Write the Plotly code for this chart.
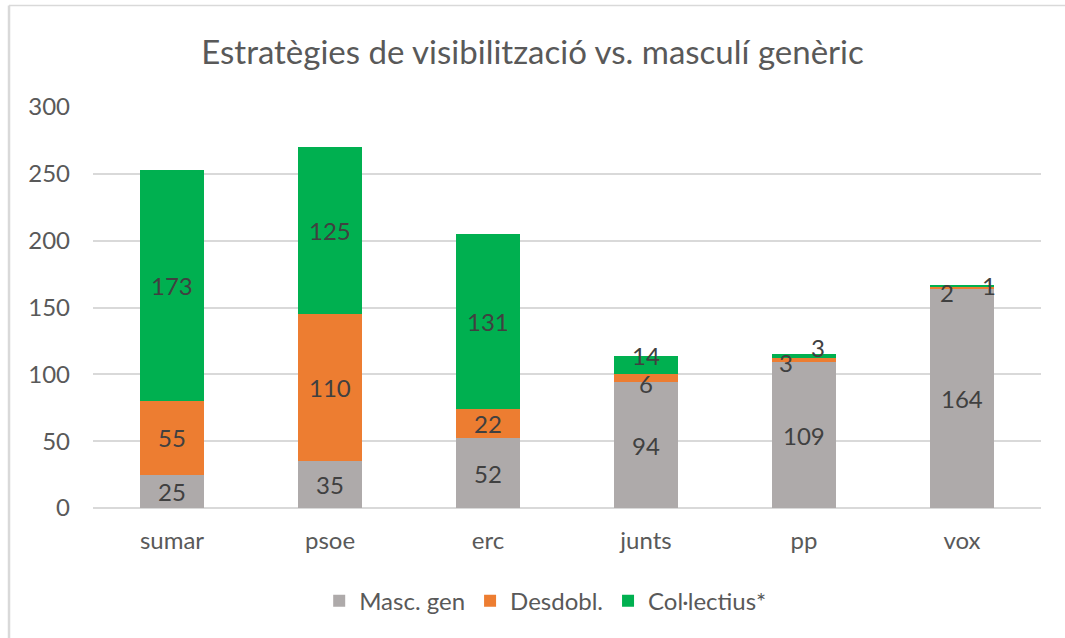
import plotly.graph_objects as go

categories = ["sumar", "psoe", "erc", "junts", "pp", "vox"]
masc_gen = [25, 35, 52, 94, 109, 164]
desdobl = [55, 110, 22, 6, 3, 2]
collectius = [173, 125, 131, 14, 3, 1]
series_names = ["Masc. gen", "Desdobl.", "Col·lectius*"]
colors = ["#AEAAAA", "#ED7D31", "#00B050"]
title_text = "Estratègies de visibilització vs. masculí genèric"

FONT = "Lato, 'Open Sans', sans-serif"

fig = go.Figure()
for name, vals, col in zip(series_names, [masc_gen, desdobl, collectius], colors):
    fig.add_trace(go.Bar(x=categories, y=vals, name=name, marker_color=col,
                         marker_line_width=0, width=0.4))

# label offsets (pixels) for small segments, Excel-style placement
offsets = {
    ("pp", 1): (-18, -2), ("pp", 2): (14, 9),
    ("vox", 1): (-15, -5), ("vox", 2): (27, 0),
    ("junts", 2): (0, 9), ("junts", 1): (0, -5),
}
series = [masc_gen, desdobl, collectius]
for i, cat in enumerate(categories):
    base = 0
    for s, vals in enumerate(series):
        v = vals[i]
        dx, dy = offsets.get((cat, s), (0, 0))
        fig.add_annotation(x=cat, y=base + v / 2, text=str(v), showarrow=False,
                           xshift=dx, yshift=dy, borderpad=0,
                           font=dict(family=FONT, size=24, color="#404040"))
        base += v

fig.update_layout(
    barmode="stack",
    width=1065, height=638,
    margin=dict(l=93, r=24, t=107, b=130),
    paper_bgcolor="white", plot_bgcolor="white",
    title=dict(text=title_text, x=0.5, xanchor="center", y=0.9185, yanchor="middle",
               font=dict(family=FONT, size=33, color="#595959")),
    legend=dict(orientation="h", x=0.477, xanchor="center", y=-0.232, yanchor="middle",
                font=dict(family=FONT, size=24, color="#595959"),
                itemwidth=30, traceorder="normal"),
    showlegend=True,
)
fig.update_yaxes(range=[0, 300], dtick=50, showgrid=True, gridcolor="#D9D9D9", gridwidth=1.5,
                 zeroline=True, zerolinecolor="#D9D9D9", zerolinewidth=1.5,
                 showline=False, ticks="", ticklabelstandoff=22,
                 tickfont=dict(family=FONT, size=24, color="#595959"))
fig.update_xaxes(showgrid=False, showline=False, ticks="", ticklabelstandoff=16,
                 tickfont=dict(family=FONT, size=24, color="#595959"))

# chart frame (left and top edges visible in the reference)
fig.add_shape(type="line", xref="paper", yref="paper",
              x0=-0.0886, x1=-0.0886, y0=-0.33, y1=1.253,
              line=dict(color="#D9D9D9", width=2.5))
fig.add_shape(type="line", xref="paper", yref="paper",
              x0=-0.0886, x1=1.03, y0=1.253, y1=1.253,
              line=dict(color="#D9D9D9", width=1.5))

fig.write_html("out.html", config={"displayModeBar": False},
               post_script="document.body.style.margin='0';")
